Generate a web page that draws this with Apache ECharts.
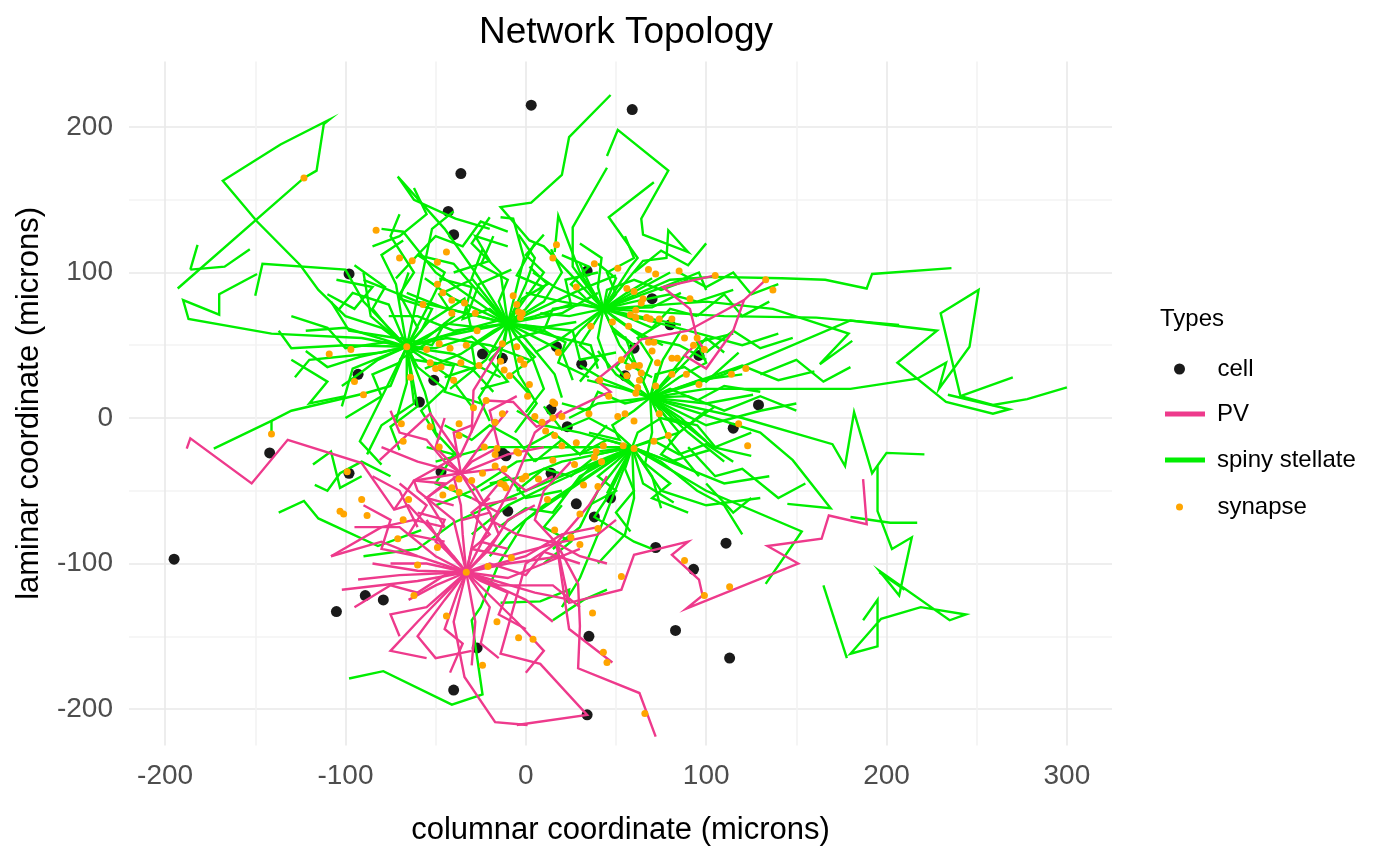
<!DOCTYPE html>
<html>
<head>
<meta charset="utf-8">
<title>Network Topology</title>
<script src="https://cdn.jsdelivr.net/npm/echarts@6/dist/echarts.min.js"></script>
<style>
  html, body { margin: 0; padding: 0; background: #fff; }
  #chart { width: 1400px; height: 865px; }
</style>
</head>
<body>
<div id="chart"></div>
<script>
// cell bodies (black dots)
var cells = [
  [3,215],[59,212],[-36,168],[-43,142],[-40,126],[-98,99],[34,101],[70,82],[80,64],[96,43],
  [31,37],[17,49],[60,48],[55,29],[-24,44],[-13,41],[-93,30],[-51,26],[-59,11],[129,9],[115,-7],
  [23,-6],[14,6],[-142,-24],[-98,-38],[-47,-37],[-11,-26],[-13,-24],[14,-38],[28,-59],[38,-68],
  [47,-55],[-10,-64],[72,-89],[93,-104],[111,-86],[83,-146],[113,-165],[35,-150],[34,-204],
  [-195,-97],[-105,-133],[-89,-122],[-79,-125],[-40,-187],[-27,-158]
];

// synapse locations (orange dots)
var synapses = [
  [-123,165],[-83,129],[-70,110],[-63,108],[-49,107],[-44,114],[-49,92],[-46,86],[-41,81],[-34,79],
  [-28,72],[-41,72],[-57,78],[-27,60],[-66,49],[-55,47],[-48,51],[-42,48],[-33,50],[-26,36],
  [-36,38],[-47,35],[-53,38],[-50,34],[-64,28],[-40,26],[-97,47],[-109,44],[-95,25],[-90,16],
  [-7,84],[-5,78],[-4,73],[-3,69],[-2,72],[-13,51],[-5,49],[-14,39],[-12,33],[-9,29],[-3,40],[-1,37],
  [17,119],[15,110],[38,106],[51,103],[68,102],[72,99],[85,101],[105,98],[133,95],[137,88],
  [28,90],[56,89],[60,87],[65,82],[64,79],[61,74],[58,71],[91,82],[67,69],[69,68],[74,68],[81,68],
  [61,69],[57,63],[48,66],[36,63],[18,45],[68,52],[71,52],[70,46],[88,55],[95,55],[93,50],[99,47],
  [53,40],[57,35],[60,36],[63,36],[73,38],[81,41],[84,41],[64,31],[56,29],[63,26],[62,21],[61,17],
  [72,22],[81,30],[89,30],[96,23],[114,30],[122,34],[2,23],[41,26],[46,15],
  [1,15],[5,1],[9,-3],[15,0],[16,10],[11,-9],[16,-12],[20,-19],[28,-17],[35,3],[43,-19],[51,1],
  [55,3],[60,-2],[74,3],[79,-12],[71,-16],[54,-19],[60,-21],[39,-23],[38,-27],[42,-30],[40,-47],
  [32,-46],[30,-66],[40,-76],[27,-32],[15,-29],[7,-42],[0,-40],[-2,-42],[-5,-23],[-12,-35],
  [-12,-46],[12,-56],[16,-77],[25,-82],[30,-87],[-8,-96],[53,-109],[37,-134],[43,-161],[45,-168],
  [-4,-151],[4,-152],[66,-203],[88,-98],[99,-122],[113,-116],[118,-4],[123,-19],[15,11],[20,1],
  [-141,-11],[-99,-37],[-103,-64],[-101,-66],[-91,-56],[-88,-67],[-69,-4],[-68,-16],[-53,-6],
  [-48,-20],[-37,-4],[-37,-12],[-29,7],[-22,12],[-13,3],[-17,-3],[-16,-21],[-17,-25],[-4,-24],
  [-23,-20],[-24,-38],[-17,-33],[-14,-45],[-11,-48],[-30,-43],[-37,-42],[-41,-48],[-37,-51],
  [-46,-53],[-65,-56],[-68,-70],[-71,-83],[-49,-89],[-60,-101],[-21,-102],[-33,-106],[-62,-122],
  [-44,-136],[-16,-140],[-24,-170]
];

// spiny stellate somata and their dendrites (x1,y1,x2,y2,... starting next to the soma)
var spinyHubs = [[-66,49],[-10,65],[43,75],[69,14],[59,-20]];

var spinyDend1 = [
  [-91,55, -141,58, -187,68, -190,81, -170,71, -170,85, -149,99],
  [-80,62, -100,70, -115,88, -125,105, -149,135, -168,163, -136,188, -109,205, -112,202, -116,170, -123,165, -193,89],
  [-90,80, -100,102, -146,106, -150,84],
  [-82,40, -95,28, -102,22],
  [-52,82, -45,100, -60,112],
  [-92,42, -110,35, -122,46],
  [-42,28, -30,8],
  [-60,8, -75,-6, -70,-22],
  [-44,55, -20,50, 2,40],
  [-72,92, -80,112, -68,122],
  [-100,62, -122,60],
  [-56,18, -50,-10, -38,-26],
  [-84,4, -92,-16, -80,-32],
  [-32,72, -26,92, -8,102],
  [-76,78, -96,86, -104,74],
  [-40,44, -14,28],
  [-96,34, -102,8],
  [-54,66, -34,82, -30,60],
  [-66,24, -72,-2],
  [-86,70, -90,100],
  [-48,40, -30,34, -18,18],
  [-100,50, -130,48, -137,60],
  [-75,22, -89,17, -130,5, -141,-2, -173,-21],
  [-58,95, -52,130, -40,142],
  [-36,60, -6,70],
  [-75,60, -85,75, -78,90, -95,105],
  [-60,62, -70,85, -62,100, -75,125, -70,140],
  [-55,55, -40,70, -48,85, -30,95],
  [-70,38, -85,30, -80,15, -100,0],
  [-60,35, -45,20, -58,5, -48,-15],
  [-78,52, -100,48, -110,62, -130,70],
  [-50,48, -30,56, -20,45, -5,55],
  [-64,30, -62,10, -80,-5, -88,-25],
  [-80,45, -120,40, -128,28],
  [-58,60, -52,75, -70,82, -65,100],
  [-72,55, -98,60, -108,80],
  [-62,40, -40,36, -45,18, -25,10]
];

var spinyDend2 = [
  [-28,100, -45,130, -71,166, -62,150, -39,137, -20,130],
  [-26,86, -40,106, -60,112, -72,96],
  [10,80, 20,100, 14,116],
  [0,92, 5,110, -4,126],
  [-1,110, -7,137, -14,138],
  [-40,60, -60,70, -76,70],
  [-36,44, -56,34],
  [16,56, 36,50, 40,34],
  [4,40, 10,20, 0,4],
  [-16,34, -26,14, -20,-2],
  [20,72, 40,86],
  [-46,76, -66,86],
  [-4,30, 6,10, -6,-10],
  [26,60, 30,40, 50,45],
  [-30,96, -24,116],
  [10,100, 0,112, 10,126],
  [-40,82, -56,96],
  [-50,55, -70,40],
  [20,46, 26,26],
  [-22,40, -42,20],
  [0,54, 16,30, 20,14],
  [-50,100, -68,128, -80,130],
  [-14,100, -30,120, -20,138],
  [30,88, 50,98],
  [-60,80, -90,95],
  [8,62, 28,66],
  [-20,75, -35,68, -30,90, -48,96],
  [0,75, 10,90, -5,98, 5,120],
  [-5,55, 5,42, -8,30, 3,15],
  [-18,60, -30,50, -28,35, -45,28],
  [5,70, 25,78, 22,95, 40,100],
  [-15,80, -10,95, -25,105, -18,125],
  [-25,62, -45,65, -52,50, -70,55],
  [10,60, 22,52, 18,38, 35,28],
  [-2,82, 12,92, 2,104],
  [-12,50, -20,40, -10,25, -25,20]
];

var spinyDend3 = [
  [30,100, 18,139, 16,114],
  [58,104, 62,110, 46,138, 71,162],
  [65,108, 78,110, 79,129, 90,114, 65,126, 64,137, 79,170, 51,198, 45,180],
  [26,104, 26,131, 45,172],
  [10,118, 2,122, -14,145, 3,148, 20,167, 24,193, 47,222],
  [80,95, 104,97, 142,96, 166,95, 189,89, 192,99, 236,103],
  [100,80, 137,75, 179,58, 163,37, 181,53],
  [110,70, 161,69, 207,64],
  [20,80, 0,86],
  [30,60, 20,44],
  [60,60, 76,50],
  [56,86, 70,96],
  [40,55, 46,34],
  [24,70, 8,72],
  [50,96, 40,106],
  [70,76, 86,86],
  [16,90, 4,100],
  [62,70, 86,64],
  [36,90, 30,106],
  [52,50, 62,34],
  [76,90, 96,100, 100,88],
  [90,60, 120,50, 140,58],
  [20,55, 5,45],
  [62,88, 80,100],
  [50,85, 45,100, 60,110, 55,125],
  [35,80, 25,92, 35,104, 20,112],
  [55,70, 70,62, 80,75, 95,70],
  [38,65, 30,50, 40,40, 30,25],
  [48,62, 60,50, 55,38, 70,28],
  [32,78, 15,75, 10,60, -5,55],
  [45,88, 60,95, 75,88, 90,95],
  [60,80, 80,85, 95,80, 115,88],
  [40,90, 42,110, 30,120],
  [50,68, 65,55, 85,50, 100,40]
];

var spinyDend4 = [
  [100,20, 180,20, 217,27, 233,38, 229,20, 246,49, 251,88, 230,72, 241,15, 259,9, 278,13, 300,21],
  [110,30, 180,67, 228,60, 206,38, 233,11, 259,3, 268,6, 234,16],
  [120,0, 170,-18, 177,-33, 182,4, 192,-38, 200,-24, 221,-25],
  [130,-10, 148,-29, 169,-62, 145,-59],
  [100,-5, 130,5, 150,10],
  [90,40, 100,55, 110,45],
  [80,30, 90,46],
  [50,30, 40,46],
  [96,26, 120,30],
  [86,0, 100,-16],
  [54,20, 34,26],
  [76,40, 86,60],
  [40,10, 24,0],
  [100,10, 126,16],
  [60,40, 55,56],
  [90,-10, 110,-30],
  [44,26, 30,36],
  [80,-16, 96,-40],
  [120,36, 140,26, 160,32],
  [104,-20, 125,-26],
  [70,-10, 66,-32],
  [80,20, 95,12, 110,22, 130,18],
  [60,22, 50,35, 60,50, 48,60],
  [75,5, 85,-10, 75,-25, 90,-35],
  [65,25, 70,40, 62,55, 75,65],
  [55,10, 40,18, 35,5, 20,10],
  [85,28, 100,38, 95,52, 115,58],
  [78,0, 95,-5, 105,-20, 125,-10],
  [60,5, 48,-5, 52,-15, 35,-10],
  [90,15, 110,5, 130,15, 150,5],
  [72,30, 88,35, 100,25, 118,45]
];

var spinyDend5 = [
  [75,-50, 100,-60, 130,-55],
  [40,-50, 30,-75, 15,-90],
  [60,-55, 55,-80, 40,-100],
  [90,-35, 110,-45, 135,-40],
  [20,-30, 0,-40, -20,-45],
  [30,-10, 10,-5, -5,5],
  [45,-55, 38,-68, 60,-85, 70,-90],
  [-5,-30, -30,-50, -50,-60],
  [10,-60, -10,-80, -20,-95],
  [85,-10, 100,5],
  [35,-35, 20,-55],
  [70,-40, 75,-62],
  [0,-70, -15,-100, -25,-130, -30,-139, -24,-190, -41,-197, -79,-174, -98,-179],
  [100,-50, 153,-78, 133,-114],
  [40,-80, 30,-110, 20,-130],
  [80,-30, 102,-22],
  [25,-20, 5,-20],
  [50,-40, 45,-52],
  [65,-45, 82,-58],
  [-10,-55, -40,-72, -60,-90, -90,-95],
  [15,-45, -10,-60, -30,-80],
  [-20,-20, -50,-30],
  [50,-30, 40,-40, 50,-50, 35,-60],
  [65,-30, 80,-45, 70,-55, 90,-65],
  [45,-15, 30,-25, 20,-15, 5,-30],
  [70,-15, 85,-25, 100,-18, 115,-30],
  [55,-35, 60,-50, 50,-65, 58,-78],
  [40,-25, 25,-40, 10,-35, -5,-50],
  [62,-10, 75,0, 90,-5, 105,8],
  [50,-10, 35,0, 20,-8, 10,8],
  [75,-30, 95,-50, 110,-60, 120,-80],
  [30,-40, 15,-65, 0,-62, -15,-75]
];

var spinyLoose = [
  [-186,102, -167,104, -153,116],
  [-182,119, -186,102],
  [-141,-2, -141,-10],
  [-137,-65, -123,-57, -115,-69, -82,-88, -58,-77],
  [-117,-46, -110,-50, -103,-38, -91,-30, -75,-40],
  [-118,-32, -108,-23, -103,-48, -91,-40],
  [-14,-127, 8,-126, 24,-118, 23,-127],
  [15,-139, 32,-125, 45,-118],
  [241,15, 270,28],
  [195,-33, 195,-64, 203,-90, 214,-82, 207,-122, 196,-105, 235,-139, 244,-135, 219,-130, 197,-138, 180,-162, 195,-157, 195,-125, 187,-139],
  [180,-68, 202,-72, 217,-72],
  [165,-115, 178,-165],
  [196,-106, 210,-118],
  [-60,112, -50,125, -35,118, -25,135, -10,128],
  [-85,118, -70,125, -55,140, -62,158],
  [-40,100, -20,108, -28,125, -10,118],
  [85,100, 100,90, 115,100, 125,85, 140,92],
  [95,70, 110,85, 120,70, 135,80],
  [100,45, 115,60, 130,48, 148,55],
  [90,-20, 105,-40, 120,-35, 140,-55, 155,-45],
  [100,-45, 115,-65, 125,-55],
  [-45,-5, -30,-15, -20,-5, -5,-15, 5,-30],
  [-55,-20, -40,-25, -50,-45, -30,-55],
  [-25,-50, -10,-40, 0,-55, 20,-50],
  [20,-60, 10,-75, 25,-85, 10,-100],
  [-110,85, -95,75, -85,90, -105,95],
  [-130,40, -110,25, -120,10, -100,15],
  [0,-20, 15,-10, 30,-25, 45,-5],
  [130,30, 150,40, 165,25, 180,35],
  [60,100, 75,115, 90,105, 100,120]
];

// PV somata and their dendrites
var pvHubs = [[-33,-106],[-36,-38],[17,-86]];

var pvDend1 = [
  [-60,-112, -102,-118],
  [-70,-108, -93,-111],
  [-60,-95, -80,-85, -108,-95],
  [-50,-80, -65,-60, -73,-63, -91,-31, -132,-15, -152,-45, -186,-14, -188,-21],
  [-45,-125, -60,-150, -50,-165, -30,-160],
  [-20,-130, -25,-155, -15,-165],
  [-10,-110, 10,-100, 30,-90],
  [0,-95, 20,-80, 40,-75],
  [-20,-90, -10,-70, 5,-60],
  [-35,-80, -36,-60, -40,-40],
  [-40,-140, -34,-178, -17,-209, 1,-211],
  [-5,-140, 10,-160, 0,-175],
  [5,-120, 25,-125],
  [-55,-130, -75,-135, -70,-150],
  [-25,-60, -15,-45],
  [-55,-100, -75,-100],
  [-15,-115, 15,-115, 30,-130],
  [-50,-115, -65,-125],
  [-28,-140, -30,-170],
  [-45,-90, -55,-70],
  [-10,-100, 20,-95],
  [-60,-105, -85,-100],
  [-40,-70, -60,-50, -62,-43, -36,-25],
  [-20,-75, -5,-40, 5,-10, 20,5],
  [-50,-95, -70,-75, -95,-75],
  [-25,-95, -15,-80, -20,-65],
  [0,-125, 15,-140],
  [-60,-140, -75,-160, -55,-165],
  [-40,-95, -50,-85, -45,-70, -60,-65],
  [-25,-112, -10,-120, -15,-135, 0,-145],
  [-45,-108, -60,-120, -75,-115, -95,-130],
  [-30,-90, -20,-80, -30,-65, -20,-55],
  [-38,-120, -45,-145, -35,-155, -42,-175],
  [-20,-100, 0,-108, 10,-92, 30,-100]
];

var pvDend2 = [
  [-62,-43, -73,-63],
  [-20,-10, -10,5],
  [-50,-20, -45,0],
  [-15,-35, 0,-50, 15,-40],
  [-55,-55, -45,-75],
  [-25,-60, -5,-55],
  [-40,-10, -30,-5],
  [-10,-25, 10,-20],
  [-60,-30, -80,-20],
  [-45,-30, -55,-15, -70,-10, -75,5],
  [-28,-48, -20,-65, -35,-70],
  [-30,-30, -15,-20, -20,5, -5,15]
];

var pvDend3 = [
  [29,-114, 30,-143, 29,-172, 63,-189, 72,-219],
  [24,-127, 53,-118, 60,-94, 90,-85, 81,-94, 96,-111, 98,-122, 89,-131, 151,-100, 134,-88, 164,-83, 168,-67, 189,-73, 187,-42],
  [24,-145, 48,-168],
  [-5,-80, -20,-70],
  [40,-80, 50,-70],
  [0,-100, -14,-162, 8,-169, 34,-204, -5,-211],
  [30,-95, 45,-100],
  [5,-70, 10,-50, 25,-30],
  [35,-60, 45,-40],
  [-10,-95, -30,-90]
];

var pvLoose = [
  [-36,-25, -22,12, -7,11, 6,-6, 21,3, 43,16, 47,18, 39,26, 53,40, 64,54, 90,60, 121,81, 133,95],
  [121,81, 115,60, 100,34, 88,43, 93,49],
  [105,98, 76,90, 91,75, 93,65, 95,54, 99,47],
  [-30,-10, -29,19, -14,49],
  [-81,-29, -53,3, -36,-27],
  [-108,-95, -80,-75, -62,-70, -45,-75],
  [-62,-43, -45,-45, -55,-55, -40,-60],
  [-85,-40, -70,-50, -60,-75],
  [-70,-45, -55,-60, -65,-80, -45,-85],
  [-30,-55, -15,-65, -25,-85, -10,-90],
  [-90,-60, -75,-70, -80,-90, -60,-95]
];

function toCoords(flat, start) {
  var coords = start ? [start.slice()] : [];
  for (var i = 0; i < flat.length; i += 2) {
    coords.push([flat[i], flat[i + 1]]);
  }
  return { coords: coords };
}

function fromHub(hub, list) {
  return list.map(function (b) { return toCoords(b, hub); });
}

var spinyLines = [].concat(
  fromHub(spinyHubs[0], spinyDend1),
  fromHub(spinyHubs[1], spinyDend2),
  fromHub(spinyHubs[2], spinyDend3),
  fromHub(spinyHubs[3], spinyDend4),
  fromHub(spinyHubs[4], spinyDend5),
  spinyLoose.map(function (b) { return toCoords(b); })
);

var pvLines = [].concat(
  fromHub(pvHubs[0], pvDend1),
  fromHub(pvHubs[1], pvDend2),
  fromHub(pvHubs[2], pvDend3),
  pvLoose.map(function (b) { return toCoords(b); })
);

// grid lines: ticks every 5, colour only the 50s (stronger on the 100s)
function gridColors(majorIdx) {
  var c = [];
  for (var i = 0; i < 20; i++) c.push('rgba(0,0,0,0)');
  c[majorIdx] = '#e9e9e9';
  c[majorIdx + 10] = '#f3f3f3';
  return c;
}

var FONT = 'Liberation Sans, Helvetica, Arial, sans-serif';
var lineIcon = 'path://M0,0L38,0L38,3L0,3Z';
var legendText = { fontSize: 24, color: '#000', lineHeight: 24, padding: [0, 0, 0, 14] };

var myChart = echarts.init(document.getElementById('chart'));

myChart.setOption({
  animation: false,
  backgroundColor: '#ffffff',
  textStyle: { fontFamily: FONT },
  title: [
    {
      text: 'Network Topology',
      left: 621, top: 9, textAlign: 'center',
      textStyle: { fontSize: 37, fontWeight: 'normal', color: '#000', fontFamily: FONT }
    },
    {
      text: 'Types',
      left: 1155, top: 302,
      textStyle: { fontSize: 24, fontWeight: 'normal', color: '#000', fontFamily: FONT }
    }
  ],
  legend: [
    {
      data: [{ name: 'cell', icon: 'circle', itemStyle: { color: '#1a1a1a' } }],
      left: 1169, top: 352, orient: 'vertical',
      itemWidth: 38, itemHeight: 11, selectedMode: false,
      textStyle: legendText
    },
    {
      data: [
        { name: 'PV', icon: lineIcon, itemStyle: { color: '#EE3A8C' } },
        { name: 'spiny stellate', icon: lineIcon, itemStyle: { color: '#00EE00' } }
      ],
      left: 1160, top: 397, orient: 'vertical', itemGap: 22,
      itemWidth: 38, itemHeight: 3, selectedMode: false,
      textStyle: { fontSize: 24, color: '#000', lineHeight: 24, padding: [0, 0, 0, 8] }
    },
    {
      data: [{ name: 'synapse', icon: 'circle', itemStyle: { color: '#FFA500' } }],
      left: 1171, top: 490, orient: 'vertical',
      itemWidth: 38, itemHeight: 7, selectedMode: false,
      textStyle: legendText
    }
  ],
  grid: { left: 129, right: 288, top: 61.5, bottom: 119.6, containLabel: false },
  xAxis: {
    type: 'value',
    min: -220, max: 325, interval: 5,
    name: 'columnar coordinate (microns)',
    nameLocation: 'middle', nameGap: 70,
    nameTextStyle: { fontSize: 31, color: '#000', fontFamily: FONT },
    axisLine: { show: false },
    axisTick: { show: false },
    axisLabel: {
      interval: 0, margin: 17, fontSize: 28, color: '#4d4d4d', fontFamily: FONT,
      formatter: function (v) { return (Math.round(v) % 100 === 0) ? String(Math.round(v)) : ''; }
    },
    splitLine: { show: true, lineStyle: { color: gridColors(4), width: 1.6 } }
  },
  yAxis: {
    type: 'value',
    min: -225, max: 245, interval: 5,
    name: 'laminar coordinate (microns)',
    nameLocation: 'middle', nameGap: 84, nameRotate: 90,
    nameTextStyle: { fontSize: 31, color: '#000', fontFamily: FONT },
    axisLine: { show: false },
    axisTick: { show: false },
    axisLabel: {
      interval: 0, margin: 16, fontSize: 28, color: '#4d4d4d', fontFamily: FONT,
      formatter: function (v) { return (Math.round(v) % 100 === 0) ? String(Math.round(v)) : ''; }
    },
    splitLine: { show: true, lineStyle: { color: gridColors(5), width: 1.6 } }
  },
  series: [
    {
      name: 'cell', type: 'scatter', data: cells,
      symbol: 'circle', symbolSize: 11,
      itemStyle: { color: '#1a1a1a', opacity: 1 }, z: 1
    },
    {
      name: 'spiny stellate', type: 'lines', coordinateSystem: 'cartesian2d',
      polyline: true, data: spinyLines,
      lineStyle: { color: '#00EE00', width: 2.4, opacity: 1 }, z: 2
    },
    {
      name: 'PV', type: 'lines', coordinateSystem: 'cartesian2d',
      polyline: true, data: pvLines,
      lineStyle: { color: '#EE3A8C', width: 2.4, opacity: 1 }, z: 3
    },
    {
      name: 'synapse', type: 'scatter', data: synapses,
      symbol: 'circle', symbolSize: 7,
      itemStyle: { color: '#FFA500', opacity: 1 }, z: 4
    }
  ]
});

window.addEventListener('resize', function () { myChart.resize(); });
</script>
</body>
</html>
